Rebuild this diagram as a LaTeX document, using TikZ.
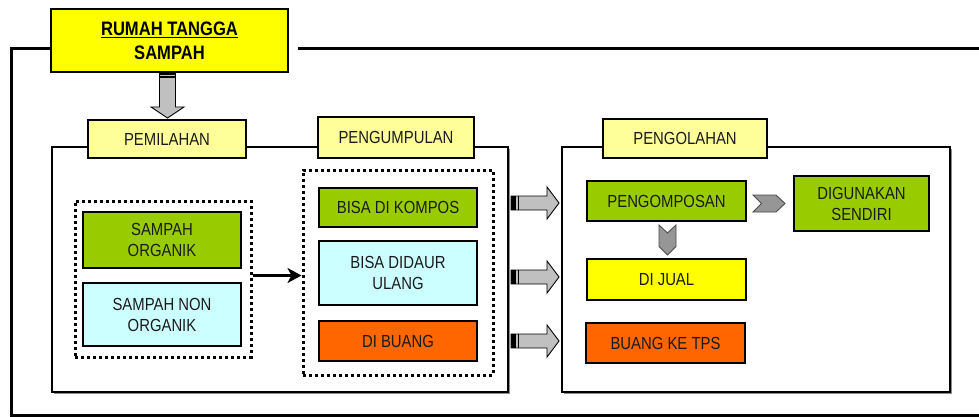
\documentclass[tikz,border=0pt]{standalone}
\usepackage{fontspec}
\setmainfont{Liberation Sans}[FakeStretch=0.85]
\usetikzlibrary{arrows.meta,calc,shadows}

\definecolor{leafgreen}{HTML}{99CC00}
\definecolor{palecyan}{HTML}{CCFFFF}
\definecolor{burnt}{HTML}{FF6600}
\definecolor{brightyellow}{HTML}{FFFF00}
\definecolor{paleyellow}{HTML}{FFFF99}
\definecolor{arrowgray}{HTML}{C0C0C0}
\definecolor{chevgray}{HTML}{969696}
\definecolor{ink}{HTML}{1A1A1A}

\tikzset{
  box/.style={draw=black, line width=1.3pt, inner sep=2pt, align=center,
    text=ink, font=\fontsize{17.5}{21}\selectfont},
  greenbox/.style={box, fill=leafgreen},
  cyanbox/.style={box, fill=palecyan},
  orangebox/.style={box, fill=burnt},
  yellowbox/.style={box, fill=brightyellow},
  tagbox/.style={box, fill=paleyellow},
  panel/.style={draw=black, line width=1.2pt, fill=white,
    drop shadow={shadow xshift=1.6pt, shadow yshift=-1.6pt, fill=black!45, opacity=1}},
  dotbox/.style={draw=black, line width=3pt, dash pattern=on 3.2pt off 2.8pt},
  blockarrow/.style={draw=black, line width=0.9pt, fill=arrowgray, line join=miter},
  chevron/.style={draw=black!70, line width=0.9pt, fill=chevgray, line join=miter},
  frame/.style={draw=black, line width=3pt},
}

\begin{document}
\begin{tikzpicture}[x=1pt, y=-1pt]
\useasboundingbox (0,0) rectangle (979,417);
\clip (0,0) rectangle (979,417);

% title box
\node[yellowbox, line width=1.5pt, minimum width=237pt, minimum height=63pt,
      font=\bfseries\fontsize{19.5}{24}\selectfont, text=black]
  (title) at (169.5,40.5) {\underline{RUMAH TANGGA}\\SAMPAH};

% outer frame, running off the right side of the page
\coordinate (ftl) at (11,49);
\coordinate (gap) at ($(title.east)+(9,0)$);
\coordinate (ftr) at (1000,49);
\coordinate (fbr) at (1000,415);
\draw[frame] (title.west |- ftl) -- (ftl) -- (ftl |- fbr) -- (fbr);
\draw[frame] (gap |- ftl) -- (ftr);

% the two panels
\node[panel, minimum width=456pt, minimum height=245pt] (p1) at (280,269.5) {};
\node[panel, minimum width=388pt, minimum height=245pt] (p2) at (756,269.5) {};

% panel labels
\node[tagbox, minimum width=158pt, minimum height=38pt] (pemilahan) at (167,139) {PEMILAHAN};
\node[tagbox, minimum width=156pt, minimum height=41pt] (pengumpulan) at (396,137.5) {PENGUMPULAN};
\node[tagbox, minimum width=164pt, minimum height=39pt] (pengolahan) at (685,138.5) {PENGOLAHAN};

% down arrow from the title
\draw[blockarrow] (159.5,72) -- (175.5,72) -- (175.5,107) -- (184,107) -- (167.5,118)
  -- (151,107) -- (159.5,107) -- cycle;
\fill[black] (159.5,72) rectangle (175.5,74.6);
\fill[black] (159.5,75.8) rectangle (175.5,77.6);

% dotted groups
\node[dotbox, minimum width=176pt, minimum height=156pt] (d1) at (163,279) {};
\node[dotbox, minimum width=190pt, minimum height=205pt] (d2) at (398,272.5) {};

% sorting
\node[greenbox, minimum width=158pt, minimum height=56pt] (organik) at (162,240) {SAMPAH\\ORGANIK};
\node[cyanbox, minimum width=158pt, minimum height=63pt] (nonorganik) at (162,314.5) {SAMPAH NON\\ORGANIK};

% collecting
\node[greenbox, minimum width=158pt, minimum height=39pt] (kompos) at (398,207.5) {BISA DI KOMPOS};
\node[cyanbox, minimum width=158pt, minimum height=64pt] (daur) at (398,273) {BISA DIDAUR\\ULANG};
\node[orangebox, minimum width=158pt, minimum height=40pt] (buang) at (398,341) {DI BUANG};

% processing
\node[greenbox, minimum width=159pt, minimum height=40pt] (kompost) at (666.5,201) {PENGOMPOSAN};
\node[yellowbox, minimum width=159pt, minimum height=41pt] (jual) at (666.5,279.5) {DI JUAL};
\node[orangebox, minimum width=159pt, minimum height=40pt] (tps) at (665.5,343) {BUANG KE TPS};
\node[greenbox, minimum width=135pt, minimum height=55pt] (sendiri) at (861.5,203.5) {DIGUNAKAN\\SENDIRI};

% sorting -> collecting
\coordinate (mid) at ($(organik.south)!0.5!(nonorganik.north)$);
\draw[line width=3.4pt, -{Stealth[length=14pt, width=15pt, inset=4pt]}]
  (d1.east |- mid) -- (d2.west |- mid);

% block arrows between the panels
\foreach \cy in {203,277,341} {
  \draw[blockarrow] (511,\cy-7) -- (547,\cy-7) -- (547,\cy-16) -- (559,\cy)
    -- (547,\cy+16) -- (547,\cy+7) -- (511,\cy+7) -- cycle;
  \fill[black] (511,\cy-7) rectangle (515.8,\cy+7);
  \draw[black, line width=1pt] (518.3,\cy-7) -- (518.3,\cy+7);
}

% chevrons inside the processing panel
\draw[chevron] (753,195) -- (776,195) -- (785,203.5) -- (776,212) -- (753,212)
  -- (761.5,203.5) -- cycle;
\draw[chevron] (659,225) -- (667.5,233) -- (676,225) -- (676,246.5) -- (667.5,255)
  -- (659,246.5) -- cycle;
\end{tikzpicture}
\end{document}
